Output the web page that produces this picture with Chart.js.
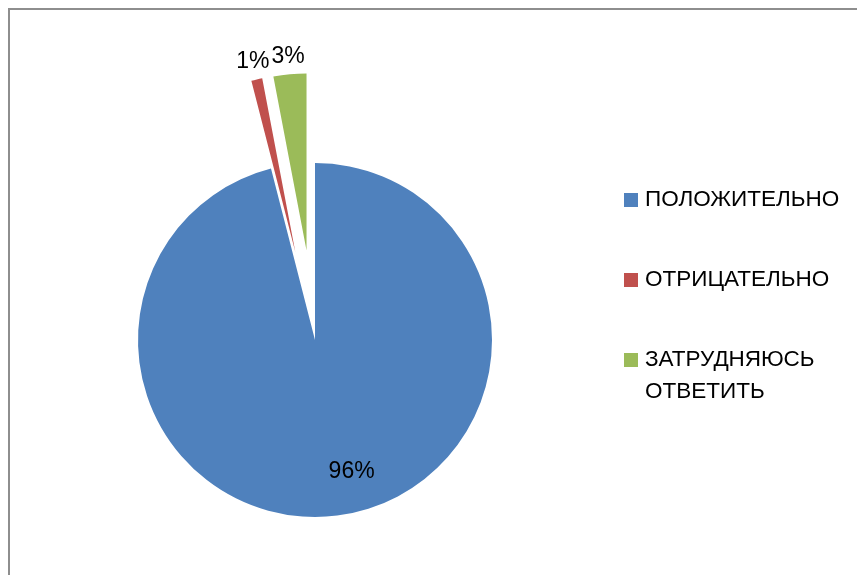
<!DOCTYPE html>
<html><head><meta charset="utf-8">
<script src="https://cdn.jsdelivr.net/npm/chart.js@4/dist/chart.umd.min.js"></script>
<style>
html,body{margin:0;padding:0;background:#fff;}
#wrap{position:relative;width:857px;height:575px;overflow:hidden;}
#frame{position:absolute;left:8px;top:8px;width:900px;height:600px;border-left:2px solid #8e8e8e;border-top:2px solid #8e8e8e;}
#c{position:absolute;left:0;top:0;}
#legend{position:absolute;left:624px;top:0;width:233px;height:575px;font-family:"Liberation Sans",Arial,sans-serif;font-size:22.5px;color:#000;}
.item{position:absolute;left:0;}
.sw{position:absolute;left:0;width:14px;height:14px;}
.tx{position:absolute;left:21px;line-height:32px;white-space:nowrap;}
</style>
</head><body>
<div id="wrap">
<div id="frame"></div>
<canvas id="c" width="857" height="575"></canvas>
<div id="legend"></div>
</div>
<script>
const categories = ["ПОЛОЖИТЕЛЬНО", "ОТРИЦАТЕЛЬНО", "ЗАТРУДНЯЮСЬ ОТВЕТИТЬ"];
const legendLines = [["ПОЛОЖИТЕЛЬНО"], ["ОТРИЦАТЕЛЬНО"], ["ЗАТРУДНЯЮСЬ", "ОТВЕТИТЬ"]];
const values = [96, 1, 3];
const colors = ["#4F81BD", "#C0504D", "#9BBB59"];

const FONT = '23px "Liberation Sans", Arial, sans-serif';

const explodePlugin = {
  id: 'explode',
  afterDatasetsUpdate(chart, args, opts) {
    const meta = chart.getDatasetMeta(0);
    meta.data.forEach((arc, i) => {
      const d = (opts.distances || [])[i] || 0;
      if (!d) return;
      const mid = (arc.startAngle + arc.endAngle) / 2;
      arc.x = arc.x + Math.cos(mid) * d;
      arc.y = arc.y + Math.sin(mid) * d;
    });
  }
};

const labelPlugin = {
  id: 'pieLabels',
  afterDatasetsDraw(chart, args, opts) {
    const ctx = chart.ctx;
    const meta = chart.getDatasetMeta(0);
    const data = chart.data.datasets[0].data;
    const total = data.reduce((a, b) => a + b, 0);
    ctx.save();
    ctx.font = FONT;
    ctx.fillStyle = '#000';
    ctx.textAlign = 'center';
    ctx.textBaseline = 'middle';
    meta.data.forEach((arc, i) => {
      const mid = (arc.startAngle + arc.endAngle) / 2;
      const inside = i === 0;
      const r = inside ? arc.outerRadius * 0.75 : arc.outerRadius + 18;
      let x = arc.x + Math.cos(mid) * r;
      let y = arc.y + Math.sin(mid) * r;
      if (inside) x += 20;
      ctx.fillText(Math.round(data[i] / total * 100) + '%', x, y);
    });
    ctx.restore();
  }
};

new Chart(document.getElementById('c'), {
  type: 'pie',
  data: {
    labels: categories,
    datasets: [{
      data: values,
      backgroundColor: colors,
      borderWidth: 0,
      clip: false
    }]
  },
  options: {
    responsive: false,
    animation: false,
    events: [],
    layout: { padding: { left: 138, right: 365, top: 163, bottom: 58 } },
    plugins: {
      legend: { display: false },
      tooltip: { enabled: false },
      explode: { distances: [0, 90, 90] }
    }
  },
  plugins: [explodePlugin, labelPlugin]
});

// legend (HTML)
const lg = document.getElementById('legend');
const firstTop = 183, step = 80, lineH = 32;
legendLines.forEach((lines, i) => {
  const it = document.createElement('div');
  it.className = 'item';
  it.style.top = (firstTop + i * step) + 'px';
  const sw = document.createElement('div');
  sw.className = 'sw';
  sw.style.background = colors[i];
  sw.style.top = (lineH / 2 - 7 + 1) + 'px';
  const tx = document.createElement('div');
  tx.className = 'tx';
  tx.innerHTML = lines.join('<br>');
  it.appendChild(sw); it.appendChild(tx);
  lg.appendChild(it);
});
</script>
</body></html>
